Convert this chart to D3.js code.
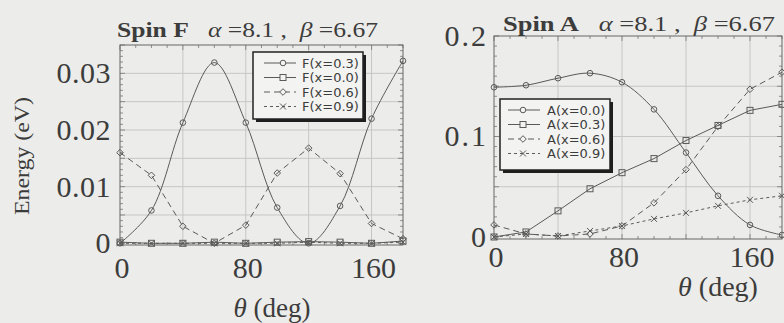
<!DOCTYPE html>
<html>
<head>
<meta charset="utf-8">
<script src="https://cdn.jsdelivr.net/npm/d3@7"></script>
<style>
  html, body { margin: 0; padding: 0; background: #ececea; }
  svg { display: block; }
  text { fill: #3c3c3c; }
</style>
</head>
<body>
<svg id="fig" width="784" height="323"></svg>
<script>
// Angle grid (deg)
const theta = [0, 20, 40, 60, 80, 100, 120, 140, 160, 180];

// Spin F energies (eV)
const F_x03 = [0, 0.0058, 0.0213, 0.0319, 0.0213, 0.0063, 0, 0.0066, 0.0220, 0.0322];
const F_x00 = [0.0002, 0, 0, 0.0002, 0, 0.0002, 0.0003, 0.0002, 0, 0.0004];
const F_x06 = [0.0160, 0.0120, 0.0030, 0, 0.0032, 0.0124, 0.0168, 0.0123, 0.0035, 0.0008];
const F_x09 = [0, 0, 0, 0, 0, 0, 0.0002, 0, 0, 0.0002];

// Spin A energies (eV)
const A_x00 = [0.149, 0.151, 0.158, 0.163, 0.154, 0.127, 0.084, 0.041, 0.012, 0.002];
const A_x03 = [0, 0.005, 0.026, 0.048, 0.064, 0.078, 0.096, 0.111, 0.126, 0.132];
const A_x06 = [0.012, 0.003, 0.001, 0.003, 0.011, 0.034, 0.067, 0.110, 0.147, 0.164];
const A_x09 = [0, 0.003, 0.001, 0.006, 0.011, 0.018, 0.024, 0.031, 0.037, 0.041];

// Tick labels
const xTickLabels = [0, 80, 160];
const fTickLabels = [0, 0.01, 0.02, 0.03];
const aTickLabels = [0, 0.1, 0.2];

const svg = d3.select("#fig");
const INK = "#5a5a5a";
const serif = "'Liberation Serif', 'Times New Roman', serif";
const sans = "'DejaVu Sans', sans-serif";

const markers = {
  circle: (g, x, y) => g.append("circle").attr("cx", x).attr("cy", y).attr("r", 2.8),
  square: (g, x, y) => g.append("rect").attr("x", x - 3).attr("y", y - 3).attr("width", 6).attr("height", 6),
  diamond: (g, x, y) => g.append("path").attr("d", `M${x},${y-3.3}L${x+3.3},${y}L${x},${y+3.3}L${x-3.3},${y}Z`),
  cross: (g, x, y) => g.append("path").attr("d", `M${x-3},${y-3}L${x+3},${y+3}M${x-3},${y+3}L${x+3},${y-3}`)
};

function panel(cfg) {
  const x = d3.scaleLinear().domain([0, 180]).range(cfg.xr);
  const y = d3.scaleLinear().domain(cfg.yd).range(cfg.yr);
  const g = svg.append("g");
  const [x0, x1] = cfg.xr, [yb, yt] = cfg.yr;

  // grid
  const grid = g.append("g").attr("stroke", "#c6c6c6").attr("stroke-width", 1);
  [40, 80, 120, 160].forEach(v => grid.append("line")
    .attr("x1", x(v)).attr("x2", x(v)).attr("y1", yb).attr("y2", yt));
  cfg.yGrid.forEach(v => grid.append("line")
    .attr("x1", x0).attr("x2", x1).attr("y1", y(v)).attr("y2", y(v)));

  // minor ticks on all four sides
  const tk = g.append("g").attr("stroke", "#777").attr("stroke-width", 0.8);
  d3.range(0, 181, 10).forEach(v => {
    const L = v % 40 === 0 ? 5 : 3;
    tk.append("line").attr("x1", x(v)).attr("x2", x(v)).attr("y1", yb).attr("y2", yb - L);
    tk.append("line").attr("x1", x(v)).attr("x2", x(v)).attr("y1", yt).attr("y2", yt + L);
  });
  cfg.yMinor.forEach((v, i) => {
    const L = i % cfg.majorEvery === 0 ? 5 : 3;
    tk.append("line").attr("x1", x0).attr("x2", x0 + L).attr("y1", y(v)).attr("y2", y(v));
    tk.append("line").attr("x1", x1).attr("x2", x1 - L).attr("y1", y(v)).attr("y2", y(v));
  });

  // frame
  g.append("rect").attr("x", x0).attr("y", yt).attr("width", x1 - x0).attr("height", yb - yt)
    .attr("fill", "none").attr("stroke", "#666").attr("stroke-width", 1);

  // series
  cfg.series.forEach(s => {
    const line = d3.line().x((d, i) => x(theta[i])).y(d => y(d)).curve(s.curve || d3.curveLinear);
    g.append("path").datum(s.values).attr("d", line)
      .attr("fill", "none").attr("stroke", INK).attr("stroke-width", 1)
      .attr("stroke-dasharray", s.dash || null);
    const mg = g.append("g").attr("fill", "none").attr("stroke", INK).attr("stroke-width", 1);
    s.values.forEach((v, i) => markers[s.marker](mg, x(theta[i]), y(v)));
  });

  // tick labels
  xTickLabels.forEach(v => g.append("text").attr("x", x(v) + cfg.xLabDx).attr("y", cfg.xLabY)
    .attr("text-anchor", "middle").attr("font-family", serif).attr("font-size", 30).text(v));
  cfg.yLabels.forEach(v => g.append("text").attr("x", cfg.yLabX).attr("y", y(v)).attr("dy", "0.33em")
    .attr("text-anchor", "end").attr("font-family", serif).attr("font-size", 30)
    .attr("letter-spacing", cfg.yLabSpacing).text(v));

  // title
  const t = g.append("text").attr("x", cfg.title.x).attr("y", cfg.title.y)
    .attr("font-family", serif).attr("font-size", 22).style("white-space", "pre")
    .attr("textLength", cfg.title.w).attr("lengthAdjust", "spacingAndGlyphs");
  t.append("tspan").attr("font-weight", "bold").text(cfg.title.name);
  t.append("tspan").text("   ");
  t.append("tspan").attr("font-style", "italic").text("α");
  t.append("tspan").text(" =8.1 ,  ");
  t.append("tspan").attr("font-style", "italic").text("β");
  t.append("tspan").text(" =6.67");

  // x axis title
  const xt = g.append("text").attr("x", cfg.xTitle.x).attr("y", cfg.xTitle.y)
    .attr("text-anchor", "middle").attr("font-family", serif).attr("font-size", cfg.xTitle.size)
    .style("white-space", "pre");
  xt.append("tspan").attr("font-style", "italic").text("θ");
  xt.append("tspan").text(" (deg)");

  // legend
  const L = cfg.legend;
  const lg = g.append("g");
  lg.append("rect").attr("x", L.x + 3).attr("y", L.y + 3).attr("width", L.w).attr("height", L.h).attr("fill", "#1e1e1e");
  lg.append("rect").attr("x", L.x).attr("y", L.y).attr("width", L.w).attr("height", L.h)
    .attr("fill", "#f3f3f1").attr("stroke", "#222").attr("stroke-width", 1.5);
  L.order.forEach((s, i) => {
    const yy = L.y + 11 + i * 14.5;
    lg.append("line").attr("x1", L.x + L.l0).attr("x2", L.x + L.l1).attr("y1", yy).attr("y2", yy)
      .attr("stroke", INK).attr("stroke-width", 1).attr("stroke-dasharray", s.dash || null);
    const mg = lg.append("g").attr("fill", "#f3f3f1").attr("stroke", INK).attr("stroke-width", 1);
    markers[s.marker](mg, L.x + L.m, yy);
    lg.append("text").attr("x", L.x + L.tx).attr("y", yy).attr("dy", "0.36em")
      .attr("font-family", sans).attr("font-size", 13).attr("fill", "#4a4a4a").text(s.label);
  });
}

const smooth = d3.curveCatmullRom.alpha(0.5);

// Spin F panel
const fSeries = [
  { label: "F(x=0.3)", values: F_x03, marker: "circle", curve: smooth },
  { label: "F(x=0.0)", values: F_x00, marker: "square" },
  { label: "F(x=0.6)", values: F_x06, marker: "diamond", dash: "6,4" },
  { label: "F(x=0.9)", values: F_x09, marker: "cross", dash: "3,3" }
];
panel({
  xr: [120, 403], yd: [-0.0003, 0.035], yr: [245, 45],
  yGrid: [0.005, 0.01, 0.015, 0.02, 0.025, 0.03],
  yMinor: d3.range(0, 36).map(i => i * 0.001), majorEvery: 5,
  series: fSeries,
  yLabels: fTickLabels, yLabX: 111, yLabSpacing: 0.5,
  xLabY: 278, xLabDx: 2,
  title: { x: 117, y: 37, w: 261, name: "Spin F" },
  xTitle: { x: 272, y: 317, size: 27 },
  legend: { x: 253, y: 52, w: 110, h: 67, l0: 11, l1: 43, m: 30, tx: 49, order: fSeries }
});

// Spin A panel
const aSeries = [
  { label: "A(x=0.0)", values: A_x00, marker: "circle", curve: smooth },
  { label: "A(x=0.3)", values: A_x03, marker: "square" },
  { label: "A(x=0.6)", values: A_x06, marker: "diamond", dash: "6,4" },
  { label: "A(x=0.9)", values: A_x09, marker: "cross", dash: "3,3" }
];
panel({
  xr: [494, 782], yd: [-0.002, 0.2], yr: [239, 36],
  yGrid: [0.05, 0.1, 0.15],
  yMinor: d3.range(0, 21).map(i => i * 0.01), majorEvery: 5,
  series: aSeries,
  yLabels: aTickLabels, yLabX: 488, yLabSpacing: 2,
  xLabY: 267, xLabDx: 2,
  title: { x: 503, y: 31, w: 272, name: "Spin A" },
  xTitle: { x: 718, y: 296, size: 28 },
  legend: { x: 500, y: 99, w: 110, h: 71, l0: 8, l1: 40, m: 23, tx: 47, order: aSeries }
});

// y axis title
svg.append("text").attr("transform", "translate(29,156) rotate(-90)")
  .attr("text-anchor", "middle").attr("font-family", serif).attr("font-size", 22)
  .attr("textLength", 118).attr("lengthAdjust", "spacingAndGlyphs").text("Energy (eV)");
</script>
</body>
</html>
